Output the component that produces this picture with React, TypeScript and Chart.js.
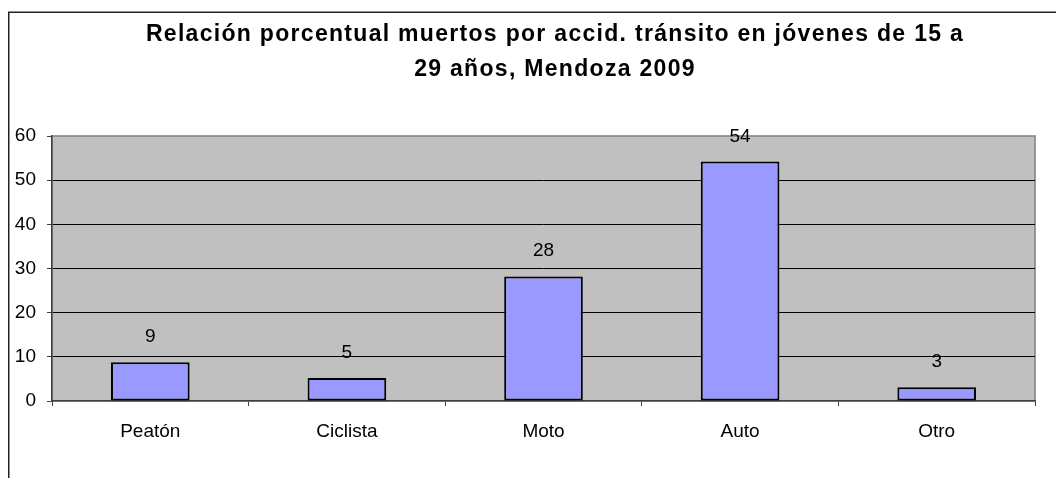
import React, { useEffect, useRef } from "react";
import { Chart, registerables } from "chart.js";

Chart.register(...registerables);

const categories = ["Peatón", "Ciclista", "Moto", "Auto", "Otro"];
const values = [8.8, 5.2, 28.2, 54.2, 3.1];
const valueLabels = ["9", "5", "28", "54", "3"];
const titleLines = [
  "Relación porcentual muertos por accid. tránsito en jóvenes de 15 a",
  "29 años, Mendoza 2009",
];
const yTicks = [0, 10, 20, 30, 40, 50, 60];

const FONT = "Arial, 'Liberation Sans', sans-serif";

const framePlugin = {
  id: "frame",
  beforeDraw(chart: any) {
    const { ctx, chartArea } = chart;
    ctx.save();
    ctx.fillStyle = "#ffffff";
    ctx.fillRect(0, 0, chart.width, chart.height);
    // outer frame
    ctx.strokeStyle = "#222222";
    ctx.lineWidth = 1.5;
    ctx.beginPath();
    ctx.moveTo(8.75, chart.height + 2);
    ctx.lineTo(8.75, 12.25);
    ctx.lineTo(chart.width + 2, 12.25);
    ctx.stroke();
    // plot area background
    ctx.fillStyle = "#C0C0C0";
    ctx.fillRect(chartArea.left, chartArea.top, chartArea.right - chartArea.left, chartArea.bottom - chartArea.top);
    ctx.strokeStyle = "#808080";
    ctx.lineWidth = 1.5;
    ctx.strokeRect(chartArea.left, chartArea.top, chartArea.right - chartArea.left, chartArea.bottom - chartArea.top);
    ctx.restore();
  },
  afterDraw(chart: any) {
    const { ctx } = chart;
    ctx.save();
    ctx.fillStyle = "#000000";
    ctx.textAlign = "center";
    ctx.textBaseline = "alphabetic";
    ctx.font = `bold 23px ${FONT}`;
    (ctx as any).letterSpacing = "1.3px";
    ctx.fillText(titleLines[0], 555, 41);
    ctx.fillText(titleLines[1], 555, 76);
    (ctx as any).letterSpacing = "0px";
    // value labels
    ctx.font = `19px ${FONT}`;
    const meta = chart.getDatasetMeta(0);
    meta.data.forEach((bar: any, i: number) => {
      ctx.fillText(valueLabels[i], bar.x, bar.y - 20);
    });
    ctx.restore();
  },
};

export default function App() {
  const ref = useRef<HTMLCanvasElement | null>(null);
  useEffect(() => {
    if (!ref.current) return;
    const chart = new Chart(ref.current, {
      type: "bar",
      data: {
        labels: categories,
        datasets: [
          {
            data: values,
            backgroundColor: "#9999FF",
            borderColor: "#000000",
            borderWidth: 2,
            borderSkipped: false,
            barPercentage: 0.8,
            categoryPercentage: 0.5,
          },
        ],
      },
      options: {
        responsive: false,
        animation: false,
        devicePixelRatio: 1,
        layout: { padding: { left: 0, right: 21, top: 136, bottom: 0 } },
        plugins: {
          legend: { display: false },
          title: { display: false },
          tooltip: { enabled: false },
        },
        scales: {
          x: {
            afterFit(scale: any) {
              scale.height = 77;
            },
            grid: {
              offset: true,
              drawOnChartArea: false,
              drawTicks: true,
              tickLength: 5,
              tickColor: "#404040",
            },
            border: { display: true, color: "#404040", width: 1.5 },
            ticks: {
              color: "#000000",
              font: { family: FONT, size: 19 },
              padding: 14,
            },
          },
          y: {
            min: 0,
            max: 60,
            afterFit(scale: any) {
              scale.width = 52;
            },
            afterBuildTicks(scale: any) {
              scale.ticks = yTicks.map((v) => ({ value: v }));
            },
            grid: {
              drawTicks: true,
              tickLength: 5,
              tickColor: "#404040",
              color: (c: any) =>
                c.tick && (c.tick.value === 60 || c.tick.value === 0) ? "rgba(0,0,0,0)" : "#000000",
              lineWidth: 1,
            },
            border: { display: true, color: "#404040", width: 1.5 },
            ticks: {
              color: "#000000",
              font: { family: FONT, size: 19 },
              padding: 11,
            },
          },
        },
      },
      plugins: [framePlugin],
    });
    return () => chart.destroy();
  }, []);
  return (
    <div style={{ position: "absolute", left: 0, top: 0, width: 1056, height: 478 }}>
      <canvas ref={ref} width={1056} height={478} style={{ display: "block" }} />
    </div>
  );
}
